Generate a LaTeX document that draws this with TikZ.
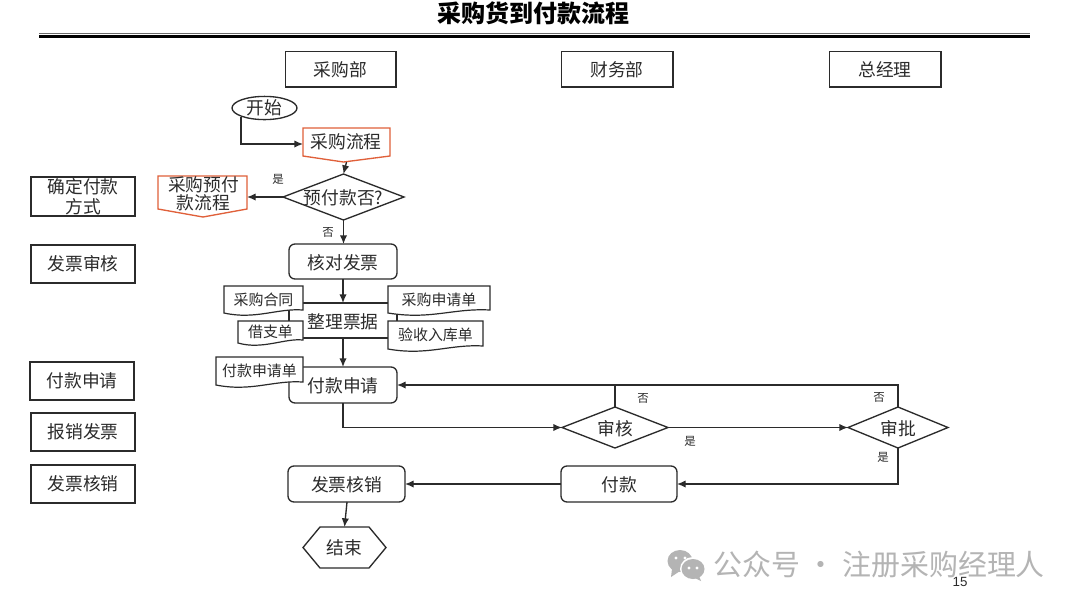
\documentclass[tikz,border=0pt]{standalone}
\usepackage{fontspec}
\setmainfont{Noto Sans CJK SC}
\newfontfamily\numfont{Liberation Sans}
\usetikzlibrary{arrows.meta,shapes.geometric,calc}
\definecolor{ink}{HTML}{2B2B2B}
\definecolor{redline}{HTML}{E0603A}
\definecolor{wm}{HTML}{B4B4B4}
\tikzset{
  x=0.75pt,y=-0.75pt,
  sz/.style 2 args={minimum width=(#1)*0.75pt,minimum height=(#2)*0.75pt,inner sep=0pt,outer sep=0pt},
  base/.style={text=ink,align=center},
  nudge/.style={text height=13.2pt,text depth=1.6pt},
  hdr/.style={base,nudge,draw=ink,line width=0.6pt,fill=white,font=\fontsize{13.3}{15}\selectfont},
  lab/.style={base,draw=ink,line width=1.5pt,fill=white,font=\fontsize{13.3}{14.6}\selectfont},
  proc/.style={base,nudge,draw=ink,line width=1pt,rounded corners=4.5pt,fill=white,font=\fontsize{13.3}{15}\selectfont},
  dia/.style={draw=ink,line width=1pt,shape=diamond,fill=white},
  diat/.style={base,nudge,inner sep=0pt,font=\fontsize{13.3}{15}\selectfont},
  red/.style={draw=redline,line width=1pt,fill=white},
  ghost/.style={base,font=\fontsize{13.3}{13.6}\selectfont},
  doc/.style={draw=ink,line width=0.9pt,fill=white},
  doct/.style={base,font=\fontsize{11.2}{13}\selectfont},
  yn/.style={base,font=\fontsize{8.6}{10}\selectfont},
  conn/.style={draw=ink,line width=1pt,-{Latex[length=6.5pt,width=5.5pt]}},
  seg/.style={draw=ink,line width=1pt},
}
% name, x-left, x-right, y-top, y-bottom, text
\newcommand{\docbox}[6]{%
  \node[sz={#3-#2}{#5-#4},doct] (#1) at ({(#2+#3)/2},{(#4+#5)/2}) {};
  \draw[doc] (#1.north west) -- (#1.north east) -- ($(#1.south east)+(0,-5)$)
    .. controls ($(#1.south)+(14,-7)$) and ($(#1.south)+(-8,5)$) .. ($(#1.south west)+(0,-2)$) -- cycle;
  \node[doct] at ($(#1.center)+(0,-1)$) {#6};
}
% name, x-left, x-right, y-top, y-corner, y-tip, x-tip
\newcommand{\offpage}[7]{%
  \node[sz={#3-#2}{#6-#4}] (#1) at ({(#2+#3)/2},{(#4+#6)/2}) {};
  \draw[red] (#2,#4) -- (#3,#4) -- (#3,#5) -- (#7,#6) -- (#2,#5) -- cycle;
}
\begin{document}
\begin{tikzpicture}
\useasboundingbox (0,0) rectangle (1080,608);
\fill[white] (0,0) rectangle (1080,608);

% title
\node[base,text=black,font=\fontsize{18}{20}\bfseries\selectfont] (title) at (533,13.5) {采购货到付款流程};
\coordinate (ruleL) at (39,36.5); \coordinate (ruleR) at (1030,36.5);
\draw[black,line width=2pt] (ruleL) -- (ruleR);
\draw[ink!70,line width=0.6pt] ($(ruleL)+(0,-2.8)$) -- ($(ruleR)+(0,-2.8)$);

% column headers
\node[hdr,sz={111}{36}] (h1) at (340.5,69) {采购部};
\node[hdr,sz={112}{36}] (h2) at (617,69) {财务部};
\node[hdr,sz={112}{36}] (h3) at (885,69) {总经理};
\foreach \n in {h1,h2,h3}{
  \draw[ink,line width=1.3pt] (\n.north east) -- (\n.south east) -- (\n.south west);
}

% left labels
\node[lab,sz={104}{39}] (l1) at (83,196.5) {确定付款\\方式};
\node[lab,sz={104}{38}] (l2) at (83,264) {发票审核};
\node[lab,sz={104}{38}] (l3) at (82,381) {付款申请};
\node[lab,sz={104}{38}] (l4) at (83,432) {报销发票};
\node[lab,sz={104}{38}] (l5) at (83,484) {发票核销};

% start
\node[base,draw=ink,line width=1pt,ellipse,sz={65}{22},font=\fontsize{13.3}{15}\selectfont] (start) at (264.5,108) {开始};

% off-page shapes
\offpage{pur}{303}{390}{128}{156}{162}{343.5}
\node[ghost] at (346,142) {采购流程};
\offpage{pre}{158}{247}{176}{209}{217}{203}
\node[ghost] at (203.5,193.5) {采购预付\\款流程};

% flow nodes
\node[dia,aspect=2.63,sz={121}{46}] (d1) at (343.5,197) {};
\node[diat] at (d1.center) {预付款否?};
\node[proc,sz={108}{35}] (check) at (343,261.5) {核对发票};
\node[base,nudge,draw=ink,line width=1pt,sz={108}{35},font=\fontsize{13.3}{15}\selectfont] (sort) at (343,320.5) {整理票据};
\node[proc,sz={108}{36}] (apply) at (343,385) {付款申请};
\node[dia,aspect=2.6,sz={106}{41}] (d2) at (615,427.5) {};
\node[diat] at (d2.center) {审核};
\node[dia,aspect=2.45,sz={100}{41}] (d3) at (898,427.5) {};
\node[diat] at (d3.center) {审批};
\node[proc,sz={116}{36}] (pay) at (619,484) {付款};
\node[proc,sz={117}{36}] (wo) at (346.5,484) {发票核销};
\node[sz={83}{41}] (end) at (344.5,547.5) {};
\draw[draw=ink,line width=1pt] (end.west) -- ($(end.west)+(17,-20.5)$) -- ($(end.east)+(-17,-20.5)$) -- (end.east) -- ($(end.east)+(-17,20.5)$) -- ($(end.west)+(17,20.5)$) -- cycle;
\node[base,font=\fontsize{13.3}{15}\selectfont] at (end.center) {结束};

% documents
\docbox{da}{224}{303}{286}{315}{采购合同}
\docbox{db}{388}{490}{286}{315}{采购申请单}
\docbox{dc}{238}{303}{321}{345}{借支单}
\docbox{dd}{388}{483}{321}{351}{验收入库单}
\docbox{de}{216}{303}{357}{387}{付款申请单}

% connectors
\coordinate (startB) at (241,117);
\draw[conn] (startB) |- (pur.west |- 0,144);
\draw[conn] (pur.south) -- (d1.north);
\draw[conn] (d1.west) -- (pre.east |- d1.west);
\draw[conn] (d1.south) -- (check.north -| d1.south);
\draw[conn] (check.south) -- (sort.north);
\draw[conn] (sort.south) -- (apply.north);
\draw[conn] (apply.south) |- (d2.west);
\draw[conn] (d2.east) -- (d3.west);
\coordinate (back) at (898,385);
\draw[seg] (d2.north) -- (d2.north |- back);
\draw[conn] (d3.north) -- (back) -- (apply.east);
\draw[conn] (d3.south) |- (pay.east);
\draw[conn] (pay.west) -- (wo.east);
\draw[conn] ($(wo.south)+(0.5,0)$) -- (end.north);

% branch labels
\node[yn] at (278,179) {是};
\node[yn] at (328,232) {否};
\node[yn] at (643,398) {否};
\node[yn] at (879,397) {否};
\node[yn] at (690,441) {是};
\node[yn] at (883,457) {是};

% watermark
\begin{scope}
  \fill[wm] (680,561) ellipse[x radius=12.5,y radius=11];
  \fill[wm] (672,569) -- (671,577) -- (680,571) -- cycle;
  \fill[white] (693,569) ellipse[x radius=13,y radius=12];
  \fill[wm] (693,569) ellipse[x radius=11.5,y radius=10];
  \fill[wm] (699,576) -- (701,581) -- (693,577) -- cycle;
  \foreach \p in {(676,558),(685,558),(689,568),(697,568)} \fill[white] \p circle[radius=1.7];
\end{scope}
\node[text=wm,font=\fontsize{21.7}{25}\selectfont,anchor=west] (mark) at (709,564) {公众号 · 注册采购经理人};
\node[text=ink,font=\numfont\fontsize{10}{12}\selectfont] (page) at (960,582) {15};
\end{tikzpicture}
\end{document}
